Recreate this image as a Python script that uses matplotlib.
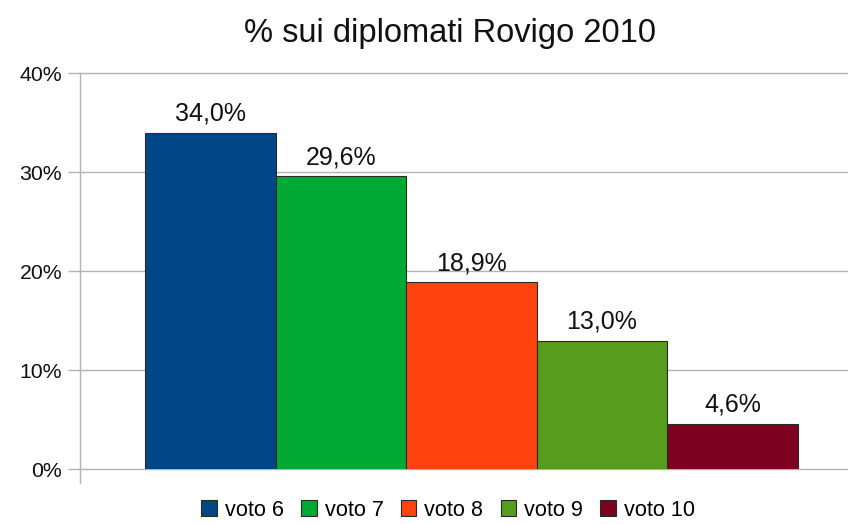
#!/usr/bin/env python3
# -*- coding: utf-8 -*-

import matplotlib
matplotlib.use("Agg")
import matplotlib.pyplot as plt
from matplotlib.lines import Line2D
from matplotlib.ticker import FuncFormatter

title = "% sui diplomati Rovigo 2010"
series = ["voto 6", "voto 7", "voto 8", "voto 9", "voto 10"]
values = [34.0, 29.6, 18.9, 13.0, 4.6]
colors = ["#004586", "#00a933", "#ff420e", "#579d1c", "#7e0021"]
yticks = [0, 10, 20, 30, 40]

plt.rcParams["font.family"] = ["Liberation Sans", "DejaVu Sans"]

W, H = 848, 524
fig = plt.figure(figsize=(W / 100, H / 100), dpi=100)
# plot area: x 80..863 px (runs past the right edge), y 73..469 px
ax = fig.add_axes([80 / W, (H - 469.3) / H, 783 / W, 396 / H])

grid_c = "#b3b3b3"
for i, (name, v, c) in enumerate(zip(series, values, colors)):
    ax.bar(i, v, width=1.0, color=c, edgecolor="#2a2a2a", linewidth=0.8,
           label=name, zorder=3)
    ax.annotate(f"{v:.1f}%".replace(".", ","), (i, v), xytext=(0, 5),
                textcoords="offset points", ha="center", va="bottom",
                fontsize=18, color="#111111")

ax.set_xlim(-1, 5)
ax.set_ylim(0, 40)
ax.set_yticks(yticks)
ax.yaxis.set_major_formatter(FuncFormatter(lambda v, _: f"{v:.0f}%"))
ax.tick_params(axis="y", length=8.6, width=1, color=grid_c, pad=4.3,
               labelsize=15.3, labelcolor="#111111")
ax.set_xticks([])
ax.grid(axis="y", color=grid_c, linewidth=1, zorder=0)
for gl in ax.get_ygridlines():
    gl.set_clip_on(False)
for s in ax.spines.values():
    s.set_visible(False)
# y axis line, a little longer than the plot area at the bottom
ax.add_line(Line2D([0, 0], [-0.035, 1], transform=ax.transAxes,
                   color=grid_c, linewidth=1, clip_on=False, zorder=2))

fig.text(450 / W, 1 - 42 / H, title, ha="center", va="baseline",
         fontsize=23.5, color="#111111")

fig.legend(loc="center", bbox_to_anchor=(448 / W, 1 - 510 / H), ncol=5,
           frameon=False, fontsize=15.6, handlelength=0.72, handleheight=0.72,
           handletextpad=0.36, columnspacing=0.8, borderpad=0)

fig.savefig("out.png", dpi=100)
plt.close(fig)
